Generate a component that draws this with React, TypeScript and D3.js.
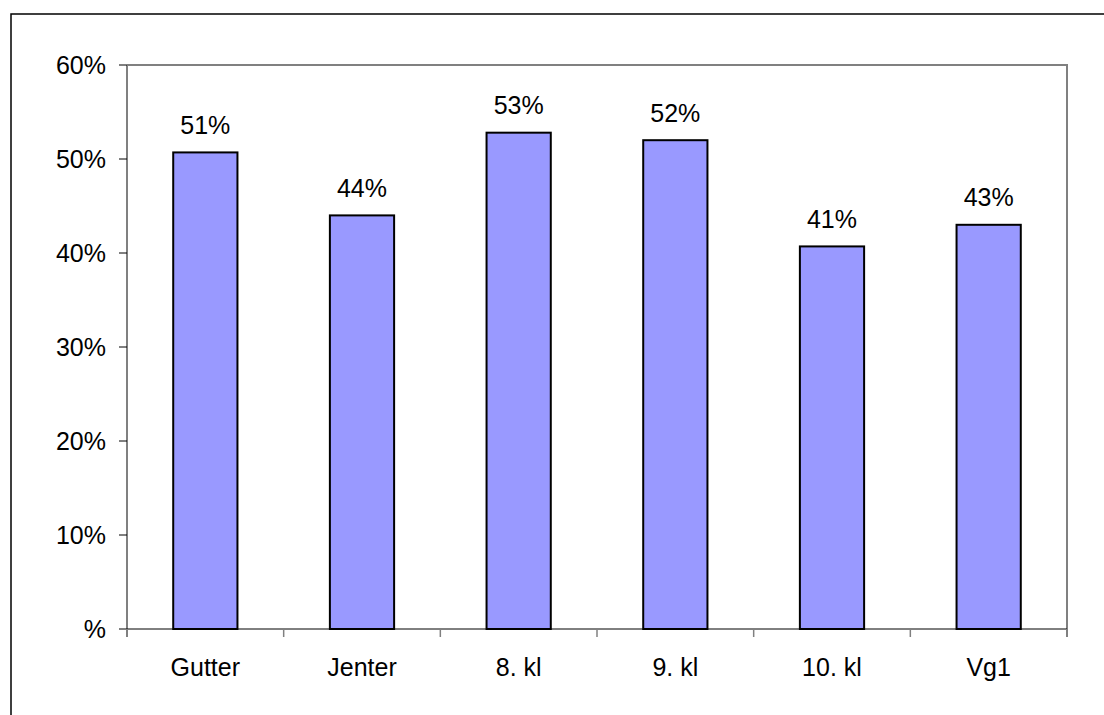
import React from "react";
import * as d3 from "d3";

const categories = ["Gutter", "Jenter", "8. kl", "9. kl", "10. kl", "Vg1"];
const values = [0.507, 0.44, 0.528, 0.52, 0.407, 0.43];
const valueLabels = ["51%", "44%", "53%", "52%", "41%", "43%"];
const yTicks = [0, 0.1, 0.2, 0.3, 0.4, 0.5, 0.6];
const yTickLabels = ["%", "10%", "20%", "30%", "40%", "50%", "60%"];

const W = 1104;
const H = 715;
const left = 127;
const right = 1067;
const top = 65;
const bottom = 629;
const FONT = "'Liberation Sans', Arial, sans-serif";
const FS = 25;

export default function App() {
  const x = d3
    .scaleBand<string>()
    .domain(categories)
    .range([left, right])
    .paddingInner(0.59)
    .paddingOuter(0.295);
  const y = d3.scaleLinear().domain([0, 0.6]).range([bottom, top]);
  const step = x.step();
  const boundaries = d3.range(categories.length + 1).map((i) => left + i * step);

  return (
    <svg
      width={W}
      height={H}
      style={{ position: "absolute", left: 0, top: 0, background: "#fff" }}
      fontFamily={FONT}
    >
      <rect x={11} y={14} width={1200} height={800} fill="#fff" stroke="#000" strokeWidth={1.5} />
      {/* plot frame top and right */}
      <path d={`M${left},${top}H${right}V${bottom}`} fill="none" stroke="#808080" strokeWidth={2} />
      {/* bars */}
      {categories.map((c, i) => (
        <rect
          key={c}
          x={x(c)}
          y={y(values[i])}
          width={x.bandwidth()}
          height={bottom - y(values[i])}
          fill="#9999FF"
          stroke="#000"
          strokeWidth={2}
        />
      ))}
      {/* left axis */}
      <line x1={left} x2={left} y1={top} y2={bottom + 8} stroke="#808080" strokeWidth={2} />
      {yTicks.map((t, i) => (
        <g key={i}>
          <line x1={left - 8} x2={left} y1={y(t)} y2={y(t)} stroke="#000" strokeWidth={1} />
          <text x={106} y={y(t) + 9} textAnchor="end" fontSize={FS} fill="#000">
            {yTickLabels[i]}
          </text>
        </g>
      ))}
      {/* bottom axis */}
      <line x1={left} x2={right} y1={bottom} y2={bottom} stroke="#000" strokeWidth={1} />
      {boundaries.map((b, i) => (
        <line key={i} x1={b} x2={b} y1={bottom} y2={bottom + 8} stroke="#808080" strokeWidth={i === 0 || i === categories.length ? 2 : 1.5} />
      ))}
      {categories.map((c) => (
        <text key={c} x={(x(c) as number) + x.bandwidth() / 2} y={676} textAnchor="middle" fontSize={FS} fill="#000">
          {c}
        </text>
      ))}
      {categories.map((c, i) => (
        <text
          key={"v" + c}
          x={(x(c) as number) + x.bandwidth() / 2}
          y={y(values[i]) - 18.5}
          textAnchor="middle"
          fontSize={FS}
          fill="#000"
        >
          {valueLabels[i]}
        </text>
      ))}
    </svg>
  );
}
